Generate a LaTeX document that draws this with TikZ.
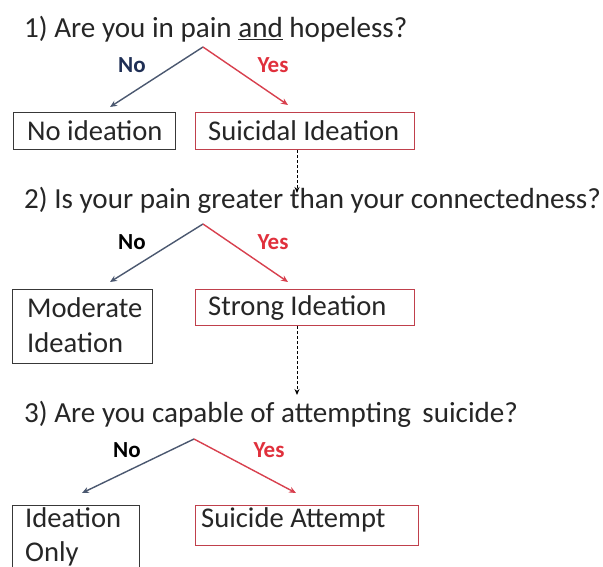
\documentclass[tikz,border=0pt]{standalone}
\usepackage{fontspec}
\setmainfont{Carlito}
\usetikzlibrary{arrows.meta}
\definecolor{txt}{HTML}{262626}
\definecolor{nolab}{HTML}{1F2F55}
\definecolor{yeslab}{HTML}{E0303C}
\definecolor{noarrow}{HTML}{4B5870}
\definecolor{yesarrow}{HTML}{D8404E}
\definecolor{nobord}{HTML}{383838}
\definecolor{yesbord}{HTML}{C0404C}
\begin{document}
\begin{tikzpicture}[x=1pt,y=-1pt,
  qtext/.style={anchor=base west, inner sep=0pt, text=txt, font=\fontsize{29.1}{34}\selectfont},
  btext/.style={anchor=base west, inner sep=0pt, text=txt, font=\fontsize{28.6}{34}\selectfont},
  lab/.style={inner sep=0pt, font=\bfseries\fontsize{23}{27}\selectfont},
  nobox/.style={draw=nobord, line width=1.4pt, anchor=north west, inner sep=0pt},
  yesbox/.style={draw=yesbord, line width=1.4pt, anchor=north west, inner sep=0pt},
  noarr/.style={draw=noarrow, line width=1.4pt, -{Stealth[length=7pt,width=6pt]}},
  yesarr/.style={draw=yesarrow, line width=1.4pt, -{Stealth[length=7pt,width=6pt]}},
  dasharr/.style={draw=black, line width=1pt, dash pattern=on 3pt off 2pt, -{Stealth[length=6pt,width=5pt]}}
]
\useasboundingbox[fill=white] (0,0) rectangle (603,567);
\clip (0,0) rectangle (603,567);

% ---- Question 1
\node[qtext] (q1) at (24,38) {1) Are you in pain \underline{and} hopeless?};
\coordinate (a1) at (203,47);
\coordinate (n1) at (110,107);
\coordinate (y1) at (288,105);
\draw[noarr] (a1) -- (n1);
\draw[yesarr] (a1) -- (y1);
\node[lab, text=nolab] (ln1) at (132,65) {No};
\node[lab, text=yeslab] (ly1) at (273,65) {Yes};
\node[nobox, minimum width=162pt, minimum height=37pt] (bn1) at (13,112) {};
\node[yesbox, minimum width=219pt, minimum height=37pt] (by1) at (195,112) {};
\node[btext] (tn1) at (27,141) {No ideation};
\node[btext] (ty1) at (208,141) {Suicidal Ideation};
\coordinate (d1) at (297,193);
\draw[dasharr] (by1.south -| d1) -- (d1);

% ---- Question 2
\node[qtext] (q2) at (24,208) {2) Is your pain greater than your connectedness?};
\coordinate (a2) at (203,224);
\coordinate (n2) at (110,282);
\coordinate (y2) at (288,282);
\draw[noarr] (a2) -- (n2);
\draw[yesarr] (a2) -- (y2);
\node[lab, text=black] (ln2) at (132,242) {No};
\node[lab, text=yeslab] (ly2) at (273,242) {Yes};
\node[nobox, minimum width=140pt, minimum height=74pt] (bn2) at (12,289) {};
\node[yesbox, minimum width=219pt, minimum height=36pt] (by2) at (195,289) {};
\node[btext] (tn2a) at (27,317) {Moderate};
\node[btext] (tn2b) at (27,352) {Ideation};
\node[btext] (ty2) at (208,315) {Strong Ideation};
\coordinate (d2) at (297,395);
\draw[dasharr] (by2.south -| d2) -- (d2);

% ---- Question 3
\node[qtext] (q3) at (24,422) {3) Are you capable of attempting\, suicide?};
\coordinate (a3) at (194,439);
\coordinate (n3) at (82,493);
\coordinate (y3) at (296,493);
\draw[noarr] (a3) -- (n3);
\draw[yesarr] (a3) -- (y3);
\node[lab, text=black] (ln3) at (127,450) {No};
\node[lab, text=yeslab] (ly3) at (269,450) {Yes};
\node[nobox, minimum width=127pt, minimum height=80pt] (bn3) at (12,505) {};
\node[yesbox, minimum width=223pt, minimum height=40pt] (by3) at (195,505) {};
\node[btext] (tn3a) at (25,527) {Ideation};
\node[btext] (tn3b) at (25,561) {Only};
\node[btext] (ty3) at (201,527) {Suicide Attempt};
\end{tikzpicture}
\end{document}
